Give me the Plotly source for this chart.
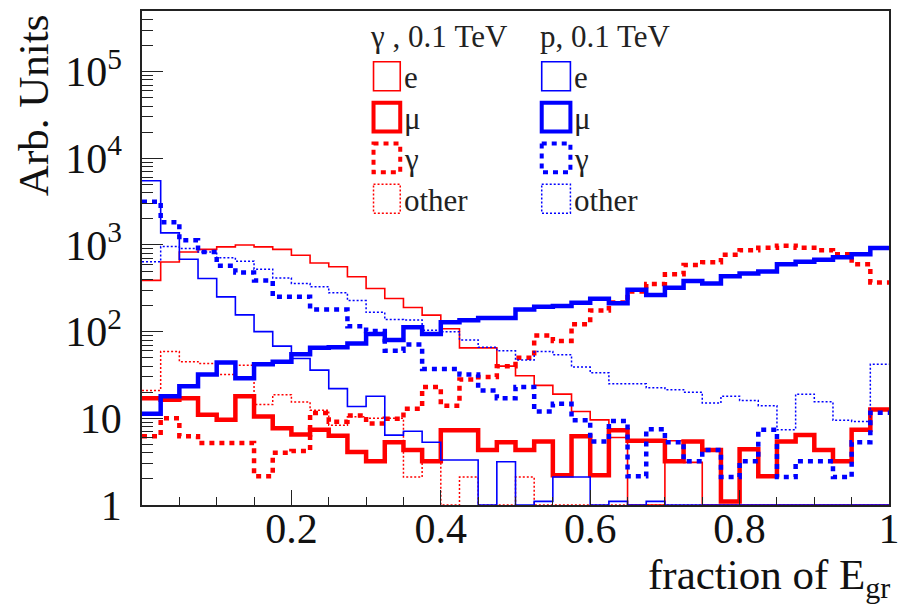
import numpy as np
import plotly.graph_objects as go

# 40 equal bins in the fraction of E_gr
bin_edges = np.linspace(0.0, 1.0, 41)

# gamma primaries, 0.1 TeV
gamma_e = [390, 635, 830, 890, 950, 1000, 950, 890, 760, 620,
           560, 430, 315, 241, 190, 155, 108, 65, 65, 40,
           31, 24, 19, 12, 9.6, 6, 0, 0, 5.5, 3.1,
           0, 0, 0, 0, 0, 0, 0, 0, 0, 0]
gamma_mu = [17, 16.4, 17, 11, 9.6, 18, 10.5, 7.7, 6.5, 7.4,
            6.3, 4.1, 3.2, 5.3, 4.3, 3.2, 7.3, 7.3, 4.3, 5.3,
            4.3, 5.4, 2.2, 6.2, 2.2, 7.3, 5.5, 5.5, 3.2, 5.4,
            4.3, 1.1, 4.4, 2.15, 5.4, 6.4, 4.3, 3.2, 7.4, 12.6]
gamma_gamma = [6.2, 10, 6.2, 5.2, 5.2, 5.2, 2.15, 4.0, 4.2, 11.5,
               9.1, 10.8, 8.7, 9.9, 12.9, 23, 14, 28, 30, 40,
               50, 90, 78, 122, 175, 217, 290, 355, 460, 587,
               630, 770, 870, 930, 980, 930, 870, 780, 600, 370]
gamma_other = [21, 59, 45, 43, 32, 41, 14.4, 18.7, 15.4, 12.4,
               8.3, 10.4, 10, 10, 2.1, 3.2, 0, 2.1, 0, 0,
               2.1, 0, 0, 0, 0, 0, 0, 0, 0, 0,
               0, 0, 0, 0, 0, 0, 0, 0, 0, 0]

# proton primaries, 0.1 TeV
proton_e = [5500, 1380, 684, 410, 252, 156, 100, 68, 49, 36,
            22, 13.7, 18, 6.4, 7.1, 5.3, 3.3, 3.3, 0, 3.15,
            0, 1.1, 2.1, 2.1, 0, 1.1, 0, 1.1, 0, 0,
            0, 0, 0, 0, 0, 0, 0, 0, 0, 0]
proton_mu = [11.3, 18, 23.4, 32, 44, 29, 42, 45, 55, 65,
             66, 73, 94, 80, 112, 94, 128, 135, 144, 144,
             180, 194, 197, 215, 239, 212, 305, 265, 320, 385,
             360, 435, 468, 495, 600, 640, 675, 720, 780, 920]
proton_gamma = [3160, 1830, 1130, 830, 575, 480, 390, 253, 253, 180,
                180, 115, 102, 60, 71, 37, 37, 32, 21, 17,
                23, 12, 14.7, 9.5, 5.4, 9.3, 2.15, 7.5, 5.3, 3.2,
                4.3, 2.1, 3.2, 7.4, 2.1, 3.2, 3.2, 2.1, 5.3, 11.6]
proton_other = [640, 960, 910, 830, 710, 650, 526, 417, 360, 330,
                280, 228, 167, 138, 136, 104, 100, 80, 66, 60,
                47, 59, 54, 39, 33.5, 25, 25, 22.5, 21.4, 20,
                15, 18, 16, 14, 7.4, 19, 15.5, 9.5, 9.2, 42]

group_titles = ["\u03b3 , 0.1 TeV", "p, 0.1 TeV"]
component_names = ["e", "\u03bc", "\u03b3", "other"]

RED, BLUE = "#ff0000", "#0000ff"
SERIF = "Liberation Serif"
YMIN, YMAX = 1.0, 5.0e5

# line style per component: (width, dash)
styles = {
    "e": (1.6, "solid"),
    "\u03bc": (4.5, "solid"),
    "\u03b3": (4.5, "5px,5px"),
    "other": (1.5, "2px,2px"),
}

W, H = 909, 606
ML, MR, MT, MB = 142, 12, 9, 101
PW, PH = W - ML - MR, H - MT - MB


def fx(px):
    return (px - ML) / PW


def fy(py):
    return (H - MB - py) / PH


fig = go.Figure()

series = [
    (RED, gamma_e, "e"), (RED, gamma_mu, "\u03bc"),
    (RED, gamma_gamma, "\u03b3"), (RED, gamma_other, "other"),
    (BLUE, proton_e, "e"), (BLUE, proton_mu, "\u03bc"),
    (BLUE, proton_gamma, "\u03b3"), (BLUE, proton_other, "other"),
]

for color, vals, comp in series:
    v = np.maximum(np.asarray(vals, dtype=float), YMIN)  # empty bins sit on the floor
    y = np.append(v, v[-1])
    width, dash = styles[comp]
    fig.add_trace(go.Scatter(
        x=bin_edges, y=y, mode="lines",
        line=dict(shape="hv", color=color, width=width, dash=dash),
        showlegend=False, hoverinfo="skip",
    ))

# legend drawn as ROOT-style boxes
shapes, annotations = [], []
legend_cols = [(376, 403, RED, 370), (546, 575, BLUE, 542)]
row_tops = [60, 101, 142, 183]
for (bx0, bx1, color, hx), title in zip(legend_cols, group_titles):
    annotations.append(dict(
        text=title, x=fx(hx), y=fy(35), xref="paper", yref="paper",
        xanchor="left", yanchor="middle", showarrow=False,
        font=dict(family=SERIF, size=31, color="#222222")))
    for top, comp in zip(row_tops, component_names):
        width, dash = styles[comp]
        shapes.append(dict(
            type="rect", xref="paper", yref="paper",
            x0=fx(bx0), x1=fx(bx1), y0=fy(top), y1=fy(top + 29),
            line=dict(color=color, width=min(width, 4), dash=dash),
            fillcolor="rgba(0,0,0,0)"))
        annotations.append(dict(
            text=comp, x=fx(bx1 + 2), y=fy(top + 16), xref="paper", yref="paper",
            xanchor="left", yanchor="middle", showarrow=False,
            font=dict(family=SERIF, size=31, color="#222222")))

# axis titles
annotations.append(dict(
    text="fraction of E<sub>gr</sub>", x=fx(900), y=fy(549),
    xref="paper", yref="paper", xanchor="right", yanchor="top",
    showarrow=False, font=dict(family=SERIF, size=43, color="#111111")))
annotations.append(dict(
    text="Arb. Units", x=fx(33), y=fy(10), textangle=-90,
    xref="paper", yref="paper", xanchor="center", yanchor="top",
    showarrow=False, font=dict(family=SERIF, size=43, color="#111111")))

y_major = [1, 10, 100, 1e3, 1e4, 1e5]
y_labels = ["1", "10", "10<sup>2</sup>", "10<sup>3</sup>", "10<sup>4</sup>", "10<sup>5</sup>"]
y_minor = [k * 10 ** d for d in range(6) for k in range(2, 10) if k * 10 ** d < YMAX]

x_major = [0.2, 0.4, 0.6, 0.8, 1.0]
x_labels = ["0.2", "0.4", "0.6", "0.8", "1"]
x_minor = [round(0.05 * i, 2) for i in range(1, 20) if i % 4 != 0]

fig.update_layout(
    width=W, height=H,
    margin=dict(l=ML, r=MR, t=MT, b=MB, pad=0),
    paper_bgcolor="white", plot_bgcolor="white",
    shapes=shapes, annotations=annotations,
    xaxis=dict(
        range=[0, 1], showgrid=False, zeroline=False,
        showline=True, mirror=True, linecolor="#222222", linewidth=1.5,
        tickmode="array", tickvals=x_major, ticktext=x_labels,
        ticks="inside", ticklen=15, tickwidth=1.3, tickcolor="#222222",
        ticklabelstandoff=-14,
        tickfont=dict(family=SERIF, size=42, color="#111111"),
        minor=dict(tickmode="array", tickvals=x_minor, ticks="inside",
                   ticklen=8, tickwidth=1.3, tickcolor="#222222"),
    ),
    yaxis=dict(
        type="log", range=[np.log10(YMIN), np.log10(YMAX)],
        showgrid=False, zeroline=False,
        showline=True, mirror=True, linecolor="#222222", linewidth=1.5,
        tickmode="array", tickvals=y_major, ticktext=y_labels,
        ticks="inside", ticklen=21, tickwidth=1.3, tickcolor="#222222",
        ticklabelstandoff=10,
        tickfont=dict(family=SERIF, size=42, color="#111111"),
        minor=dict(tickmode="array", tickvals=y_minor, ticks="inside",
                   ticklen=11, tickwidth=1.3, tickcolor="#222222"),
    ),
)

fig.write_html("out.html")
